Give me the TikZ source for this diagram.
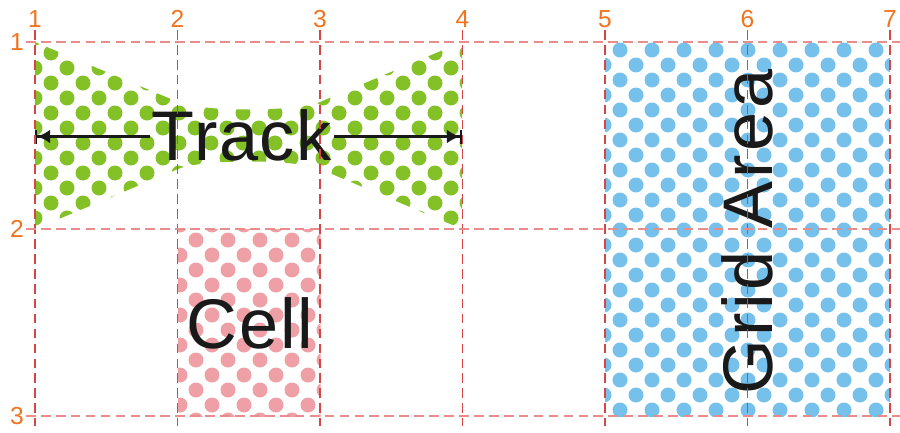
\documentclass[tikz,border=0pt]{standalone}
\usepackage{fontspec}
\setmainfont{Liberation Sans}
\usetikzlibrary{arrows.meta}
\definecolor{labelorange}{RGB}{240,115,30}
\definecolor{gridred}{RGB}{215,70,70}
\definecolor{gridpink}{RGB}{232,140,140}
\definecolor{trackgreen}{RGB}{131,193,38}
\definecolor{cellpink}{RGB}{239,160,166}
\definecolor{areablue}{RGB}{118,193,236}
% colour, x origin, y origin, columns, rows
\newcommand{\dotrows}[5]{%
  \foreach \j in {0,...,#5}{
    \foreach \i in {0,...,#4}{
      \fill[#1] ({#2+32*\i+16*mod(\j,2)},{#3+15*\j}) circle[radius=0.15cm];
    }
  }%
}
\begin{document}
\begin{tikzpicture}[x=0.02cm, y=-0.02cm,
    bigtext/.style={font=\fontsize{40}{44}\selectfont\addfontfeatures{LetterSpace=#1}, text=black!90, inner sep=1pt},
    bigtext/.default=2.5,
    numlabel/.style={font=\fontsize{14}{16}\selectfont, text=labelorange, inner sep=0pt},
    griddash/.style={line width=0.6pt, dash pattern=on 5.5pt off 3pt},
    trackline/.style={line width=1.7pt, black!90},
    tracktip/.tip={Latex[length=0.26cm,width=0.28cm]},
    trackbar/.tip={Bar[width=0.28cm,line width=1.2pt]}]
    \useasboundingbox (0,0) rectangle (900,433);
    % Track (bow tie)
    \begin{scope}
        \clip (35,42) -- (178,102) .. controls (201,112) and (296,112) .. (320,102) -- (462,42)
            -- (462,229) -- (320,169) .. controls (296,159) and (201,159) .. (178,169) -- (35,229) -- cycle;
        \dotrows{trackgreen}{35}{38}{13}{13}
    \end{scope}
    % Cell
    \begin{scope}
        \clip (178,229) rectangle (320.7,416);
        \dotrows{cellpink}{148}{225}{6}{13}
    \end{scope}
    % Grid area
    \begin{scope}
        \clip (605,42) rectangle (890,416);
        \dotrows{areablue}{572}{35}{10}{26}
    \end{scope}
    % Track arrow and labels
    \coordinate (trackL) at (35,136.5);
    \coordinate (trackR) at (462,136.5);
    \node[bigtext] (track) at (242,135) {Track};
    \draw[trackline, {trackbar[]tracktip[]}-] (trackL) -- (track.west |- trackL);
    \draw[trackline, -{tracktip[]trackbar[]}] (track.east |- trackR) -- (trackR);
    \node[bigtext] (cell) at (250,323) {Cell};
    \node[bigtext=5, rotate=90] (area) at (747.5,232) {Grid Area};
    % Grid lines with numbers
    \foreach \n in {1,...,7}{
        \draw[gridred, griddash] ({35+142.5*(\n-1)},30) -- ({35+142.5*(\n-1)},426);
        \node[numlabel] (col\n) at ({35+142.5*(\n-1)},19) {\n};
    }
    \foreach \n in {1,2,3}{
        \draw[gridpink, griddash] (26,{42+187*(\n-1)}) -- (900,{42+187*(\n-1)});
        \node[numlabel] (row\n) at (17,{42+187*(\n-1)}) {\n};
    }
\end{tikzpicture}
\end{document}
